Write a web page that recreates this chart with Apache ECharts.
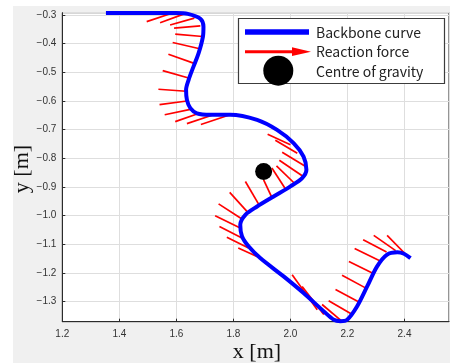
<!DOCTYPE html>
<html>
<head>
<meta charset="utf-8">
<script src="https://cdn.jsdelivr.net/npm/echarts@6/dist/echarts.min.js"></script>
<style>
html, body { margin: 0; padding: 0; background: #fff; }
#wrap { position: relative; width: 450px; height: 364px; }
#bg { position: absolute; left: 13px; top: 6px; width: 437px; height: 357px; background: #f0f0f0; }
#chart { position: absolute; left: 0; top: 0; width: 450px; height: 364px; }
</style>
</head>
<body>
<div id="wrap"><div id="bg"></div><div id="chart"></div></div>
<script>
// backbone curve (blue)
const backboneX = [1.353, 1.600, 1.640, 1.684, 1.695, 1.693, 1.678, 1.660, 1.643, 1.634, 1.637, 1.649, 1.672, 1.719, 1.789, 1.883, 1.953, 2.011, 2.046, 2.056, 2.041, 2.000, 1.941, 1.883, 1.842, 1.824, 1.830, 1.853, 1.894, 1.976, 2.046, 2.117, 2.152, 2.175, 2.199, 2.234, 2.269, 2.304, 2.339, 2.375, 2.398, 2.421];
const backboneY = [-0.293, -0.293, -0.296, -0.313, -0.341, -0.376, -0.433, -0.480, -0.526, -0.561, -0.596, -0.625, -0.643, -0.648, -0.648, -0.666, -0.701, -0.747, -0.794, -0.840, -0.869, -0.898, -0.933, -0.968, -0.997, -1.032, -1.072, -1.107, -1.148, -1.212, -1.270, -1.334, -1.363, -1.368, -1.363, -1.316, -1.247, -1.177, -1.136, -1.128, -1.133, -1.148];

// reaction force segments (red): outer end -> point on curve
const forceX1 = [1.496, 1.543, 1.578, 1.592, 1.596, 1.587, 1.572, 1.552, 1.537, 1.541, 1.559, 1.596, 1.637, 1.686, 1.920, 1.947, 1.971, 1.961, 1.951, 1.935, 1.906, 1.842, 1.787, 1.748, 1.736, 1.751, 1.777, 1.817, 2.006, 2.041, 2.111, 2.134, 2.158, 2.181, 2.205, 2.225, 2.255, 2.292, 2.339];
const forceY1 = [-0.323, -0.327, -0.335, -0.346, -0.367, -0.396, -0.437, -0.494, -0.559, -0.613, -0.648, -0.672, -0.679, -0.682, -0.716, -0.737, -0.779, -0.807, -0.826, -0.834, -0.875, -0.881, -0.919, -0.959, -1.000, -1.038, -1.075, -1.113, -1.206, -1.247, -1.310, -1.297, -1.258, -1.208, -1.160, -1.115, -1.084, -1.069, -1.069];
const forceX2 = [1.584, 1.625, 1.663, 1.684, 1.692, 1.678, 1.660, 1.643, 1.634, 1.637, 1.649, 1.680, 1.730, 1.783, 2.000, 2.024, 2.049, 2.041, 2.014, 1.986, 1.936, 1.892, 1.853, 1.830, 1.824, 1.830, 1.853, 1.894, 2.094, 2.117, 2.181, 2.217, 2.240, 2.263, 2.287, 2.313, 2.337, 2.369, 2.415];
const forceY2 = [-0.294, -0.297, -0.311, -0.338, -0.375, -0.417, -0.468, -0.520, -0.566, -0.600, -0.629, -0.643, -0.648, -0.650, -0.753, -0.782, -0.826, -0.861, -0.887, -0.912, -0.939, -0.966, -0.991, -1.012, -1.043, -1.078, -1.113, -1.148, -1.328, -1.345, -1.369, -1.345, -1.301, -1.252, -1.200, -1.157, -1.127, -1.122, -1.146];

// centre of gravity
const gravityX = [1.906];
const gravityY = [-0.846];

const legendNames = ['Backbone curve', 'Reaction force', 'Centre of gravity'];

const chart = echarts.init(document.getElementById('chart'));

const tickFmt = v => (v < 0 ? '\u2212' : '') + Math.abs(v).toFixed(1);

const option = {
  animation: false,
  backgroundColor: 'transparent',
  grid: {
    left: 62.3, top: 12.7, right: 1, bottom: 42.3,
    show: true, backgroundColor: '#fff', borderColor: '#2b2b2b', borderWidth: 1
  },
  xAxis: {
    type: 'value', min: 1.2, max: 2.556, interval: 0.2,
    axisLine: { show: true, lineStyle: { color: '#2b2b2b' } },
    axisTick: { show: true, inside: true, length: 3, lineStyle: { color: '#2b2b2b' } },
    axisLabel: { showMaxLabel: false, color: '#333', fontSize: 10, fontFamily: 'Liberation Sans', margin: 8, formatter: tickFmt },
    splitLine: { lineStyle: { color: '#dedede' } }
  },
  yAxis: {
    type: 'value', min: -1.37, max: -0.292, splitNumber: 11,
    axisLine: { show: true, lineStyle: { color: '#2b2b2b' } },
    axisTick: { show: true, inside: true, length: 3, lineStyle: { color: '#2b2b2b' } },
    axisLabel: { showMinLabel: false, showMaxLabel: false, color: '#333', fontSize: 10, fontFamily: 'Liberation Sans', margin: 6, formatter: tickFmt },
    splitLine: { lineStyle: { color: '#dedede' } }
  },
  series: [
    {
      name: legendNames[1],
      type: 'lines',
      coordinateSystem: 'cartesian2d',
      z: 2,
      lineStyle: { color: '#ff0000', width: 1.7, opacity: 1 },
      data: forceX1.map((x, i) => ({ coords: [[x, forceY1[i]], [forceX2[i], forceY2[i]]] }))
    },
    {
      name: legendNames[0],
      type: 'line',
      z: 3,
      clip: false,
      smooth: 0.3,
      showSymbol: false,
      lineStyle: { color: '#0000ff', width: 4 },
      data: backboneX.map((x, i) => [x, backboneY[i]])
    },
    {
      name: legendNames[2],
      type: 'scatter',
      z: 4,
      symbolSize: 17,
      itemStyle: { color: '#000', opacity: 1 },
      data: gravityX.map((x, i) => [x, gravityY[i]])
    }
  ],
  graphic: [
    { type: 'rect', z: 10, shape: { x: 238.5, y: 18.5, width: 206, height: 65 }, style: { fill: '#fff', stroke: '#3c3c3c', lineWidth: 1.2 } },
    { type: 'line', z: 11, shape: { x1: 245, y1: 32, x2: 309, y2: 32 }, style: { stroke: '#0000ff', lineWidth: 5.5 } },
    { type: 'line', z: 11, shape: { x1: 245, y1: 51.7, x2: 295, y2: 51.7 }, style: { stroke: '#ff0000', lineWidth: 3 } },
    { type: 'polygon', z: 11, shape: { points: [[292, 47.3], [311, 51.7], [292, 56]] }, style: { fill: '#ff0000' } },
    { type: 'circle', z: 11, shape: { cx: 278.3, cy: 70.7, r: 15 }, style: { fill: '#000' } },
    { type: 'text', z: 11, x: 316, y: 32.7, style: { text: legendNames[0], fill: '#222', font: '14px "Noto Sans CJK JP"', verticalAlign: 'middle' } },
    { type: 'text', z: 11, x: 316, y: 51.7, style: { text: legendNames[1], fill: '#222', font: '14px "Noto Sans CJK JP"', verticalAlign: 'middle' } },
    { type: 'text', z: 11, x: 316, y: 71.7, style: { text: legendNames[2], fill: '#222', font: '14px "Noto Sans CJK JP"', verticalAlign: 'middle' } },
    { type: 'text', z: 11, x: 257, y: 352, style: { text: 'x [m]', fill: '#111', font: '22px "Liberation Serif"', align: 'center', verticalAlign: 'middle' } },
    { type: 'text', z: 11, x: 22, y: 169, rotation: Math.PI / 2, style: { text: 'y [m]', fill: '#111', font: '22px "Liberation Serif"', align: 'center', verticalAlign: 'middle' } }
  ]
};

chart.setOption(option);
</script>
</body>
</html>
